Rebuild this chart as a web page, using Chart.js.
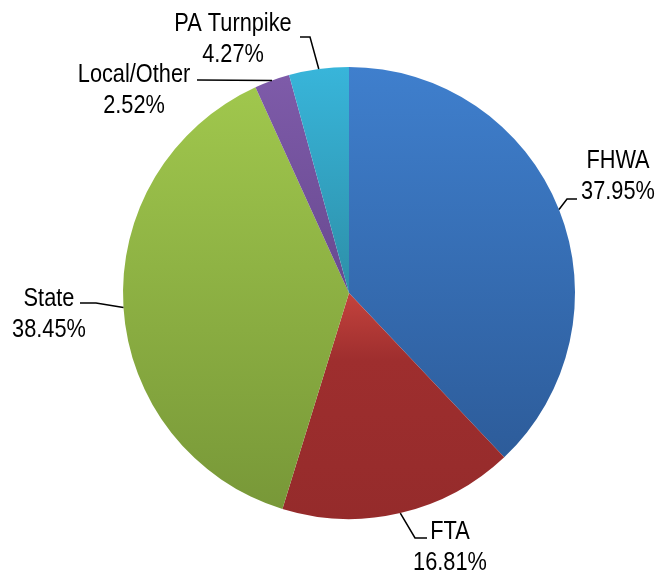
<!DOCTYPE html>
<html>
<head>
<meta charset="utf-8">
<script src="https://cdn.jsdelivr.net/npm/chart.js@4/dist/chart.umd.min.js"></script>
<style>
  html, body { margin: 0; padding: 0; background: #fff; }
  #wrap { width: 659px; height: 575px; }
</style>
</head>
<body>
<div id="wrap"><canvas id="pieChart" width="659" height="575"></canvas></div>
<script>
// data
const sliceLabels = ['FHWA', 'FTA', 'State', 'Local/Other', 'PA Turnpike'];
const sliceShares = [37.95, 16.81, 38.45, 2.52, 4.27];

// colours, light at the top of a slice and darker at its bottom
const topColors = ['#3f7fcd', '#c4433d', '#a0c74d', '#7e5ba9', '#38b5da'];
const midColors = [null, '#9e2e2e', null, null, null];
const bottomColors = ['#2d5c9a', '#952b2b', '#789838', '#684990', '#2d8fa8'];

// where each label sits and the elbow of its leader line
const labelSpots = [
    { x: 618, y: 159, leader: [[577, 199], [567, 199]] },
    { x: 450, y: 530, leader: [[427, 538], [415, 538]] },
    { x: 49, y: 297, leader: [[80, 303], [96, 303]] },
    { x: 134, y: 73, leader: [[197, 80]] },
    { x: 233, y: 22, leader: [[300, 37], [310, 37]] }
];

function sliceGradient(context) {
    const chart = context.chart;
    const area = chart.chartArea;
    const i = context.dataIndex;
    if (!area) return topColors[i];

    const cx = (area.left + area.right) / 2;
    const cy = (area.top + area.bottom) / 2;
    const r = Math.min(area.right - area.left, area.bottom - area.top) / 2;
    const total = sliceShares.reduce((a, b) => a + b, 0);
    let before = 0;
    for (let k = 0; k < i; k++) before += sliceShares[k];
    const a0 = -Math.PI / 2 + before / total * Math.PI * 2;
    const a1 = a0 + sliceShares[i] / total * Math.PI * 2;

    // vertical extent of the slice
    let minY = cy, maxY = cy;
    for (let s = 0; s <= 60; s++) {
        const a = a0 + (a1 - a0) * s / 60;
        const y = cy + Math.sin(a) * r;
        minY = Math.min(minY, y);
        maxY = Math.max(maxY, y);
    }
    const g = chart.ctx.createLinearGradient(0, minY, 0, maxY);
    g.addColorStop(0, topColors[i]);
    if (midColors[i]) g.addColorStop(0.3, midColors[i]);
    g.addColorStop(1, bottomColors[i]);
    return g;
}

const labelPlugin = {
    id: 'sliceLabels',
    afterDatasetsDraw(chart) {
        const ctx = chart.ctx;
        const meta = chart.getDatasetMeta(0);
        ctx.save();
        ctx.strokeStyle = '#000';
        ctx.lineWidth = 1.5;
        ctx.fillStyle = '#000';
        ctx.font = '25px "Liberation Sans", Arial, sans-serif';
        ctx.textAlign = 'center';
        ctx.textBaseline = 'alphabetic';

        meta.data.forEach(function (arc, i) {
            const spot = labelSpots[i];
            const mid = (arc.startAngle + arc.endAngle) / 2;
            const ex = arc.x + Math.cos(mid) * arc.outerRadius;
            const ey = arc.y + Math.sin(mid) * arc.outerRadius;

            ctx.beginPath();
            ctx.moveTo(spot.leader[0][0], spot.leader[0][1]);
            for (let k = 1; k < spot.leader.length; k++) {
                ctx.lineTo(spot.leader[k][0], spot.leader[k][1]);
            }
            ctx.lineTo(ex, ey);
            ctx.stroke();

            const lines = [sliceLabels[i], sliceShares[i].toFixed(2) + '%'];
            lines.forEach(function (txt, n) {
                ctx.save();
                ctx.translate(spot.x, spot.y + 9 + n * 31);
                ctx.scale(0.87, 1);
                ctx.fillText(txt, 0, 0);
                ctx.restore();
            });
        });
        ctx.restore();
    }
};

new Chart(document.getElementById('pieChart').getContext('2d'), {
    type: 'pie',
    data: {
        labels: sliceLabels,
        datasets: [{
            data: sliceShares,
            backgroundColor: sliceGradient,
            borderWidth: 0
        }]
    },
    options: {
        responsive: false,
        animation: false,
        layout: {
            padding: { left: 123, right: 84, top: 67, bottom: 56 }
        },
        plugins: {
            legend: { display: false },
            tooltip: { enabled: false }
        }
    },
    plugins: [labelPlugin]
});
</script>
</body>
</html>
